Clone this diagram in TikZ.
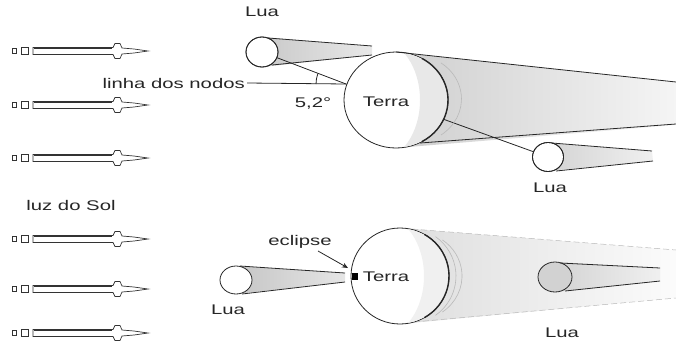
\documentclass[tikz,border=0pt]{standalone}
\usepackage{fontspec}
\usepackage{graphicx}
\setmainfont{Liberation Sans}
\usetikzlibrary{shapes.geometric,arrows.meta,calc}
% wide lettering used for all labels
\newcommand{\widetxt}[1]{\scalebox{1.45}[1]{#1}}

\begin{document}
\begin{tikzpicture}[x=1pt,y=-1pt,
  lbl/.style={font=\fontsize{14}{16}\selectfont, text=black!85, inner sep=0pt},
  body/.style={ellipse, draw=black!85, line width=0.8pt, fill=white, inner sep=0pt},
  rim/.style={draw=black!85, line width=0.8pt},
  ray/.style={draw=black!80, line width=0.7pt, fill=white},
  ring/.style={draw=gray!55, line width=0.6pt}
]
\useasboundingbox (0,0) rectangle (676,343);

% ---------- sunlight arrows ----------
\foreach \y in {51,105,158,239,289,333}{
  \draw[ray, line width=1pt] (12,\y-2.5) rectangle (16,\y+2.5);
  \draw[ray, line width=0.9pt] (21,\y-3.5) rectangle (28,\y+3.5);
  \draw[ray] (33,\y-3.5) -- (113,\y-3.5) -- (115,\y-7.5) -- (120,\y-7.5) -- (122,\y-3)
     -- (134,\y-2) -- (148,\y) -- (134,\y+2) -- (122,\y+3) -- (120,\y+7.5)
     -- (115,\y+7.5) -- (113,\y+3.5) -- (33,\y+3.5) -- cycle;
  \draw[black!80, line width=1.1pt] (34,\y-3) -- (112,\y-3);
}
\node[lbl] (sol) at (71,205) {\widetxt{luz do Sol}};

% ---------- upper scene: shadow cones ----------
\shade[left color=gray!38, right color=gray!8]
  (396,52) -- (676,82) -- (676,125) -- (396,148) -- cycle;
\shade[left color=gray!42, right color=gray!18]
  (262,37) -- (372,46) -- (372,55) -- (262,67) -- cycle;
\shade[left color=gray!34, right color=gray!12]
  (548,143) -- (652,151) -- (653,161) -- (548,171) -- cycle;

\coordinate (vertex) at (346,84);
\node[body, minimum width=32, minimum height=30] (luaA) at (262,52) {};
\node[body, minimum width=31, minimum height=29] (luaB) at (548,157) {};

% plane of the lunar orbit, partly hidden behind the Earth
\draw[rim] (luaA) -- (vertex) -- (luaB);

\node[body, minimum width=104, minimum height=96] (terraA) at (396,100) {};
\begin{scope}
  \clip (396,100) ellipse [x radius=51.5pt, y radius=47.5pt];
  \fill[gray!18, even odd rule] (396,100) ellipse [x radius=52pt, y radius=48pt]
       (378,100) ellipse [x radius=42pt, y radius=60pt];
\end{scope}
\draw[black!85, line width=1.4pt] (422,141.6) arc[start angle=-60, end angle=60, x radius=52pt, y radius=48pt];
\draw[ring] (441,135) arc[start angle=-55, end angle=55, x radius=48pt, y radius=44pt];

% cone edges
\draw[rim] (396,52) -- (676,82);
\draw[rim] (420,143) -- (676,124);
\draw[rim] (268,38) -- (372,46);
\draw[rim] (272,65) -- (372,55);
\draw[rim] (552,143) -- (652,151);
\draw[rim] (556,171) -- (653,161);
\draw[rim] (luaA.center) ellipse [x radius=16pt, y radius=15pt];
\draw[rim] (luaB.center) ellipse [x radius=15.5pt, y radius=14.5pt];

% node line and inclination
\node[lbl, anchor=east] (nodos) at (245,83) {\widetxt{linha dos nodos}};
\draw[rim] (nodos.east) ++(2,0) -- (vertex);
\draw[rim] (316,84) arc[start angle=180, end angle=160, radius=30pt];
\node[lbl] (ang) at (313,104) {\widetxt{5,2°}};

\node[lbl] (luaAlbl) at (262,12) {\widetxt{Lua}};
\node[lbl] (terraAlbl) at (386,102) {\widetxt{Terra}};
\node[lbl] (luaBlbl) at (550,188) {\widetxt{Lua}};

% ---------- lower scene ----------
\shade[left color=gray!26, right color=gray!3]
  (400,228) -- (676,250) -- (676,298) -- (400,324) -- cycle;
\draw[gray!55, line width=0.5pt, dash pattern=on 6pt off 3pt] (412,229) -- (676,250);
\draw[gray!55, line width=0.5pt, dash pattern=on 6pt off 3pt] (414,322) -- (676,298);

\shade[left color=gray!45, right color=gray!20]
  (236,266) -- (345,273) -- (345,282) -- (236,294) -- cycle;
\shade[left color=gray!34, right color=gray!12]
  (555,262) -- (660,268) -- (660,281) -- (555,292) -- cycle;

\node[body, minimum width=32, minimum height=28] (luaC) at (236,280) {};
\node[body, minimum width=34, minimum height=30, fill=gray!35] (luaD) at (555,277) {};
\node[body, minimum width=98, minimum height=96] (terraB) at (400,276) {};
\begin{scope}
  \clip (400,276) ellipse [x radius=48.5pt, y radius=47.5pt];
  \fill[gray!12, even odd rule] (400,276) ellipse [x radius=49pt, y radius=48pt]
       (382,276) ellipse [x radius=42pt, y radius=60pt];
\end{scope}
\draw[black!85, line width=1.4pt] (424.5,317.6) arc[start angle=-60, end angle=60, x radius=49pt, y radius=48pt];
\draw[ring] (435.5,315.3) arc[start angle=-55, end angle=55, x radius=48pt, y radius=48pt];
\draw[ring] (442.4,312) arc[start angle=-55, end angle=55, x radius=46pt, y radius=44pt];

\draw[rim] (240,266) -- (345,273);
\draw[rim] (242,294) -- (345,282);
\draw[rim] (560,263) -- (660,268);
\draw[rim] (565,291) -- (660,281);

\fill[black] (352,273) rectangle (358,280);
\coordinate (eclpt) at (348,268);

\node[lbl] (ecl) at (300,242) {\widetxt{eclipse}};
\coordinate (eclFrom) at (318,251);
\draw[rim, -{Stealth[length=6pt, width=5pt]}] (eclFrom) -- (eclpt);

\node[lbl] (terraBlbl) at (386,277) {\widetxt{Terra}};
\node[lbl] (luaClbl) at (228,310) {\widetxt{Lua}};
\node[lbl] (luaDlbl) at (562,333) {\widetxt{Lua}};
\end{tikzpicture}
\end{document}
